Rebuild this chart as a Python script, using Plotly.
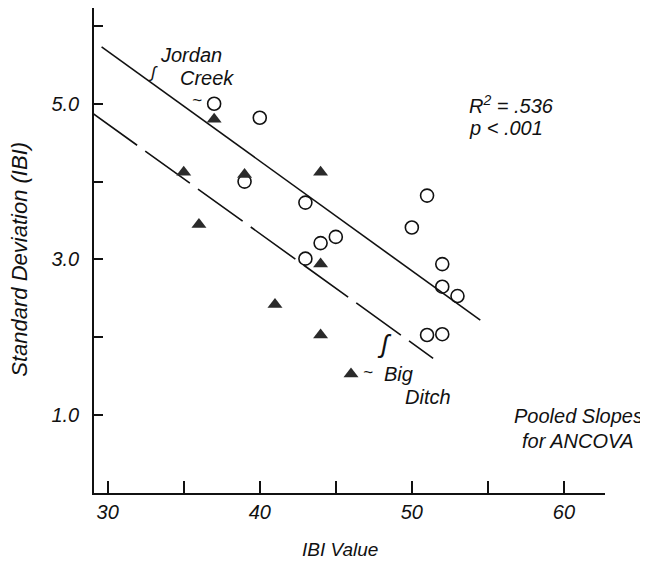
import plotly.graph_objects as go

# Data
jordan_x = [37, 40, 39, 43, 51, 50, 44, 45, 43, 52, 52, 53, 51, 52]
jordan_y = [5.0, 4.82, 4.0, 3.73, 3.82, 3.41, 3.21, 3.29, 3.01, 2.94, 2.65, 2.53, 2.03, 2.04]
ditch_x = [37, 35, 39, 44, 36, 44, 41, 44, 46]
ditch_y = [4.80, 4.12, 4.09, 4.12, 3.45, 2.94, 2.42, 2.03, 1.53]

jordan_fit_x = [29.6, 54.5]
jordan_fit_y = [5.73, 2.22]
ditch_fit_x = [29.0, 51.4]
ditch_fit_y = [4.88, 1.73]

x_tickvals = [30, 40, 50, 60]
x_ticktext = ["30", "40", "50", "60"]
y_tickvals = [1, 3, 5]
y_ticktext = ["1.0", "3.0", "5.0"]

FONT = "Liberation Sans, Arial, Helvetica, sans-serif"
INK = "#111111"
FS = 20

fig = go.Figure()
fig.add_trace(go.Scatter(x=jordan_fit_x, y=jordan_fit_y, mode="lines",
                         line=dict(color=INK, width=1.6), showlegend=False))
fig.add_trace(go.Scatter(x=ditch_fit_x, y=ditch_fit_y, mode="lines",
                         line=dict(color=INK, width=1.6, dash="55px,10px"), showlegend=False))
fig.add_trace(go.Scatter(x=jordan_x, y=jordan_y, mode="markers",
                         marker=dict(symbol="circle-open", size=13, color=INK,
                                     line=dict(width=1.6, color=INK)),
                         showlegend=False))
fig.add_trace(go.Scatter(x=ditch_x, y=ditch_y, mode="markers",
                         marker=dict(symbol="triangle-up", size=13, color="#2a2a2a",
                                     line=dict(width=0)),
                         showlegend=False))

def ann(text, x, y, size=FS, xanchor="center", angle=0, xref="x", yref="y",
        xshift=0, yshift=0):
    fig.add_annotation(text=text, x=x, y=y, xref=xref, yref=yref, showarrow=False,
                       xanchor=xanchor, yanchor="middle", textangle=angle,
                       xshift=xshift, yshift=yshift,
                       font=dict(family=FONT, size=size, color=INK, style="italic"))

ann("Jordan", 35.49, 5.63)
ann("Creek", 36.55, 5.33)
ann("ʃ", 32.96, 5.40, size=17)
ann("~", 35.90, 5.04, size=17)
ann("Big", 49.14, 1.53)
ann("Ditch", 51.09, 1.23)
ann("ʃ", 48.22, 1.92, size=26)
ann("~", 47.10, 1.55, size=17)
ann("R<sup>2</sup> = .536", 53.62, 4.99, xanchor="left")
ann("p < .001", 53.62, 4.69, xanchor="left")
ann("Pooled Slopes", 60.95, 0.99)
ann("for ANCOVA", 60.95, 0.67)
# axis titles
ann("IBI Value", 0.481, 0, xref="paper", yref="paper", yshift=-56, size=19)
ann("Standard Deviation (IBI)", 0, 0.481, xref="paper", yref="paper",
    xshift=-74, angle=-90, size=22)

fig.update_layout(
    width=640, height=562,
    margin=dict(l=86, r=43, t=0, b=77),
    paper_bgcolor="white", plot_bgcolor="white",
    font=dict(family=FONT, size=FS, color=INK, style="italic"),
    xaxis=dict(range=[29.1, 62.7], tickvals=x_tickvals, ticktext=x_ticktext,
               ticks="inside", ticklen=12, tickwidth=1.5, tickcolor=INK,
               minor=dict(ticks="inside", ticklen=12, tickwidth=1.5, tickcolor=INK,
                          tick0=0, dtick=5, showgrid=False),
               showline=True, linewidth=1.6, linecolor=INK,
               showgrid=False, zeroline=False),
    yaxis=dict(range=[0, 6.23], tickvals=y_tickvals, ticktext=y_ticktext,
               ticks="inside", ticklen=9, tickwidth=1.5, tickcolor=INK,
               minor=dict(ticks="inside", ticklen=9, tickwidth=1.5, tickcolor=INK,
                          tick0=0, dtick=1, showgrid=False),
               showline=True, linewidth=1.6, linecolor=INK,
               showgrid=False, zeroline=False, ticklabelstandoff=9),
)

fig.write_html("out.html")
